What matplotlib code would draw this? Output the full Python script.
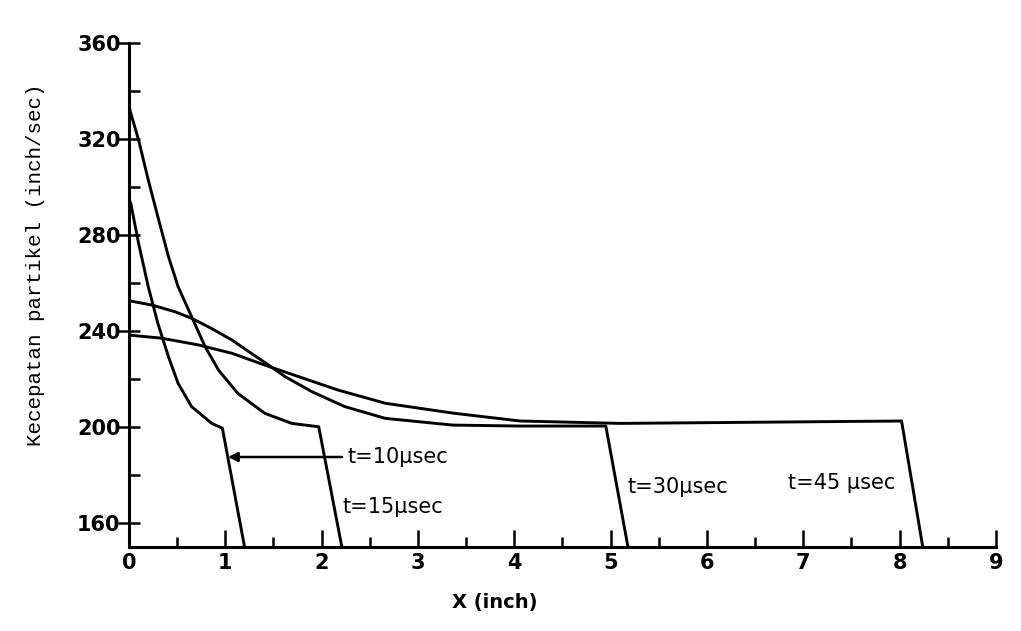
import matplotlib
matplotlib.use('Agg')
import matplotlib.pyplot as plt
from matplotlib.ticker import MultipleLocator

# curves (x in inch, particle velocity in inch/sec)
t10_x = [0, 0.02, 0.10, 0.20, 0.30, 0.41, 0.51, 0.65, 0.86, 0.97, 1.20]
t10_v = [295, 293, 276.5, 258.5, 243.2, 229.3, 218.2, 208.5, 201.5, 199.5, 150]

t15_x = [0, 0.01, 0.10, 0.20, 0.30, 0.41, 0.51, 0.65, 0.79, 0.93, 1.13, 1.41, 1.69,
         1.97, 2.21]
t15_v = [336, 332, 319.6, 303, 287.6, 271, 258.5, 246, 233.5, 223.7, 214, 205.7, 201.5,
         200.1, 150]

t30_x = [0, 0.24, 0.48, 0.65, 0.86, 1.07, 1.27, 1.45, 1.62, 1.90, 2.24, 2.66, 3.36,
         4.06, 4.95, 5.18]
t30_v = [252.6, 250.8, 248, 245.3, 241, 236.2, 230.7, 225.8, 221, 214.7, 208.5, 203.6,
         200.8, 200.4, 200.4, 150]

t45_x = [0, 0.34, 0.72, 1.07, 1.41, 1.76, 2.17, 2.66, 3.36, 4.06, 5.1, 8.02, 8.24]
t45_v = [238.3, 237, 234.2, 230.7, 225.8, 221, 215.4, 209.9, 205.8, 202.5, 201.5,
         202.5, 150]

labels = ["t=10\u03bcsec", "t=15\u03bcsec", "t=30\u03bcsec", "t=45 \u03bcsec"]
label_pos = [(2.27, 187.5), (2.22, 166.7), (5.17, 175), (6.84, 176.7)]

x_ticks = list(range(0, 10))
y_ticks = [160, 200, 240, 280, 320, 360]

fig = plt.figure(figsize=(10.21, 6.31), dpi=100, facecolor='white')
ax = fig.add_axes([0.1263, 0.1331, 0.8492, 0.7988])

lw = 2.1
for xs, vs in [(t10_x, t10_v), (t15_x, t15_v), (t30_x, t30_v), (t45_x, t45_v)]:
    ax.plot(xs, vs, color='black', lw=lw, solid_joinstyle='round')

# arrow pointing at the t=10 front
ax.annotate('', xy=(1.0, label_pos[0][1]), xytext=(2.24, label_pos[0][1]),
            arrowprops=dict(arrowstyle='-|>', color='black', lw=1.8,
                            mutation_scale=14))

for txt, (px, py) in zip(labels, label_pos):
    ax.text(px, py, txt, fontsize=15, ha='left', va='center', color='black')

ax.set_xlim(0, 9)
ax.set_ylim(150, 360)
ax.set_xticks(x_ticks)
ax.set_yticks(y_ticks)
ax.xaxis.set_minor_locator(MultipleLocator(0.5))
ax.yaxis.set_minor_locator(MultipleLocator(20))

ax.spines['top'].set_visible(False)
ax.spines['right'].set_visible(False)
ax.spines['left'].set_linewidth(2.2)
ax.spines['bottom'].set_linewidth(2.2)

ax.tick_params(axis='x', which='major', direction='in', length=12, width=1.8,
               labelsize=15, pad=4)
ax.tick_params(axis='x', which='minor', direction='in', length=7, width=1.8)
ax.tick_params(axis='y', which='major', direction='inout', length=16, width=1.8,
               labelsize=15, pad=-2)
ax.tick_params(axis='y', which='minor', direction='in', length=8, width=1.8)
for lab in ax.get_xticklabels() + ax.get_yticklabels():
    lab.set_fontweight('bold')

ax.set_xlabel('X (inch)', fontsize=14, fontweight='bold')
ax.xaxis.set_label_coords((495 - 129) / 867, -0.092)
ax.set_ylabel('Kecepatan partikel (inch/sec)', fontsize=15, family='Liberation Mono')
ax.yaxis.set_label_coords(-0.097, 0.56)

fig.savefig('out.png', dpi=100, facecolor='white')
